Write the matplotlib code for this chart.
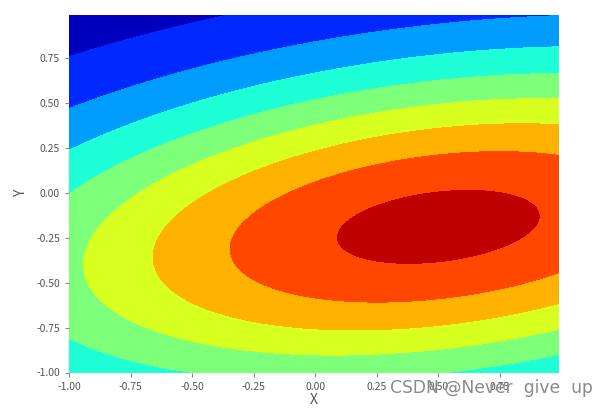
import numpy as np
import matplotlib
matplotlib.use('Agg')
import matplotlib.pyplot as plt

plt.rcParams['font.family'] = ['Noto Sans CJK SC', 'DejaVu Sans']
plt.rcParams['axes.unicode_minus'] = False

# grid, same step as the picture (right/top edge stop at 0.99)
x = np.arange(-1, 1, 0.01)
y = np.arange(-1, 1, 0.01)

# surface parameters (tilted bump, peak near (0.5, -0.19))
center = [0.5, -0.19]
quad_a = 0.266
quad_b = -0.158
quad_c = 1.085
tail = 0.025

levels = [0.0, 0.12, 0.24, 0.36, 0.48, 0.60, 0.72, 0.84, 0.96, 1.08]
xticks = [-1.00, -0.75, -0.50, -0.25, 0.00, 0.25, 0.50, 0.75]
yticks = [-1.00, -0.75, -0.50, -0.25, 0.00, 0.25, 0.50, 0.75]

X, Y = np.meshgrid(x, y)
dx = X - center[0]
dy = Y - center[1]
Q = quad_a * dx ** 2 + 2 * quad_b * dx * dy + quad_c * dy ** 2
Z = np.exp(-(Q + tail * Q ** 2))

fig = plt.figure(figsize=(6.09, 4.08), dpi=100)
ax = fig.add_axes([69 / 609, (408 - 372.5) / 408, 490 / 609, 357.8 / 408])
ax.contourf(X, Y, Z, levels=levels, cmap='jet')

for s in ax.spines.values():
    s.set_visible(False)

txt_col = '#555555'
ax.set_xticks(xticks)
ax.set_yticks(yticks)
ax.set_xticklabels(['%.2f' % v for v in xticks])
ax.set_yticklabels(['%.2f' % v for v in yticks])
ax.tick_params(labelsize=7.5, colors='#888888', labelcolor=txt_col, length=3, width=0.8)
ax.set_xlabel('X', fontsize=10, color=txt_col, labelpad=1)
ax.set_ylabel('Y', fontsize=10, color=txt_col, labelpad=6)

fig.text(0.974, 0.048, 'CSDN @Never  give  up', ha='right', va='center',
         fontsize=12.3, color='#8a8a8a', family=['DejaVu Sans'])

fig.savefig('out.png', dpi=100)
